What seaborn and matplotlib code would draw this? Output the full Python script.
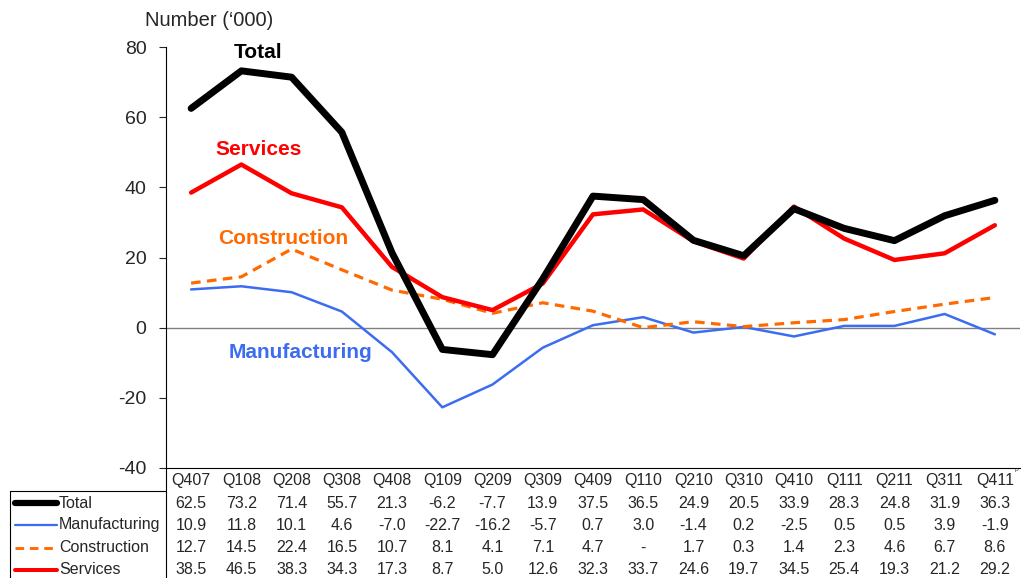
import numpy as np
import pandas as pd
import seaborn as sns
import matplotlib.pyplot as plt
from matplotlib.lines import Line2D
from matplotlib.transforms import blended_transform_factory

quarters = ["Q407", "Q108", "Q208", "Q308", "Q408", "Q109", "Q209", "Q309", "Q409",
            "Q110", "Q210", "Q310", "Q410", "Q111", "Q211", "Q311", "Q411"]
total = [62.5, 73.2, 71.4, 55.7, 21.3, -6.2, -7.7, 13.9, 37.5, 36.5, 24.9, 20.5, 33.9, 28.3, 24.8, 31.9, 36.3]
manufacturing = [10.9, 11.8, 10.1, 4.6, -7.0, -22.7, -16.2, -5.7, 0.7, 3.0, -1.4, 0.2, -2.5, 0.5, 0.5, 3.9, -1.9]
construction = [12.7, 14.5, 22.4, 16.5, 10.7, 8.1, 4.1, 7.1, 4.7, 0.0, 1.7, 0.3, 1.4, 2.3, 4.6, 6.7, 8.6]
construction_txt = ["12.7", "14.5", "22.4", "16.5", "10.7", "8.1", "4.1", "7.1", "4.7", "-",
                    "1.7", "0.3", "1.4", "2.3", "4.6", "6.7", "8.6"]
services = [38.5, 46.5, 38.3, 34.3, 17.3, 8.7, 5.0, 12.6, 32.3, 33.7, 24.6, 19.7, 34.5, 25.4, 19.3, 21.2, 29.2]

series = ["Total", "Manufacturing", "Construction", "Services"]
colors = {"Total": "black", "Manufacturing": "#3c6cf0", "Construction": "#ff6a00", "Services": "#ff0000"}
widths = {"Total": 5.0, "Manufacturing": 1.8, "Construction": 2.3, "Services": 3.2}
styles = {"Total": "-", "Manufacturing": "-", "Construction": (0, (3, 2)), "Services": "-"}

sns.set_style("white")
plt.rcParams['font.family'] = ['Liberation Sans', 'DejaVu Sans']
plt.rcParams['axes.unicode_minus'] = False

W, H = 1021, 578
fig = plt.figure(figsize=(W / 100, H / 100), dpi=100)
ax = fig.add_axes([166 / W, 1 - 468 / H, (1020 - 166) / W, (468 - 47) / H])

x = np.arange(len(quarters))
df = pd.DataFrame({"x": np.tile(x, 4),
                   "value": total + manufacturing + construction + services,
                   "series": np.repeat(series, len(quarters))})

ax.axhline(0, color="#808080", lw=1, zorder=1)
for s in ["Manufacturing", "Construction", "Services", "Total"]:
    sub = df[df.series == s]
    sns.lineplot(data=sub, x="x", y="value", ax=ax, color=colors[s], lw=widths[s],
                 linestyle=styles[s], zorder=3)

ax.set_xlim(-0.5, len(quarters) - 0.5)
ax.set_ylim(-40, 80)
ax.set_yticks([-40, -20, 0, 20, 40, 60, 80])
ax.set_xticks([])
ax.set_xlabel("")
ax.set_ylabel("")
ax.tick_params(axis="y", labelsize=14, length=5, width=0.8, pad=9, direction="out", left=True)
for sp in ["top", "right"]:
    ax.spines[sp].set_visible(False)
for sp in ["left", "bottom"]:
    ax.spines[sp].set_linewidth(0.8)
    ax.spines[sp].set_color("black")

fig.text(145 / W, 1 - 20 / H, "Number (\u2018000)", fontsize=14.5, va="center", ha="left")

labels = [("Total", 258, 52, "black"), ("Services", 259, 149, colors["Services"]),
          ("Construction", 283, 238, colors["Construction"]),
          ("Manufacturing", 300, 353, colors["Manufacturing"])]
for txt, px, py, c in labels:
    fig.text(px / W, 1 - py / H, txt, fontsize=15, fontweight="bold", color=c, ha="center", va="center")

# data table under the chart
tr = lambda py: 1 - py / H
blend = blended_transform_factory(ax.transData, fig.transFigure)
for i, q in enumerate(quarters):
    ax.text(i, tr(481), q, transform=blend, ha="center", va="center", fontsize=11.5)
ax.text(len(quarters) - 0.5 - 0.1, tr(471), "P", transform=blend, ha="left", va="center", fontsize=4)

rows = [total, manufacturing, construction_txt, services]
row_y = [503, 525, 548, 570]
for s, vals, py in zip(series, rows, row_y):
    for i, v in enumerate(vals):
        txt = v if isinstance(v, str) else f"{v:.1f}"
        ax.text(i, tr(py), txt, transform=blend, ha="center", va="center", fontsize=11.5)
    fig.add_artist(Line2D([15 / W, 57 / W], [tr(py), tr(py)], color=colors[s], lw=widths[s] * 0.9,
                          linestyle=styles[s], transform=fig.transFigure))
    fig.text(59 / W, tr(py), s, ha="left", va="center", fontsize=11.5)

# table borders
fig.add_artist(Line2D([166 / W, 166 / W], [tr(468), 0], color="black", lw=0.8, transform=fig.transFigure))
fig.add_artist(Line2D([10 / W, 166 / W], [tr(491), tr(491)], color="black", lw=0.8, transform=fig.transFigure))
fig.add_artist(Line2D([10 / W, 10 / W], [tr(491), 0], color="black", lw=0.8, transform=fig.transFigure))

fig.savefig("out.png", dpi=100)
